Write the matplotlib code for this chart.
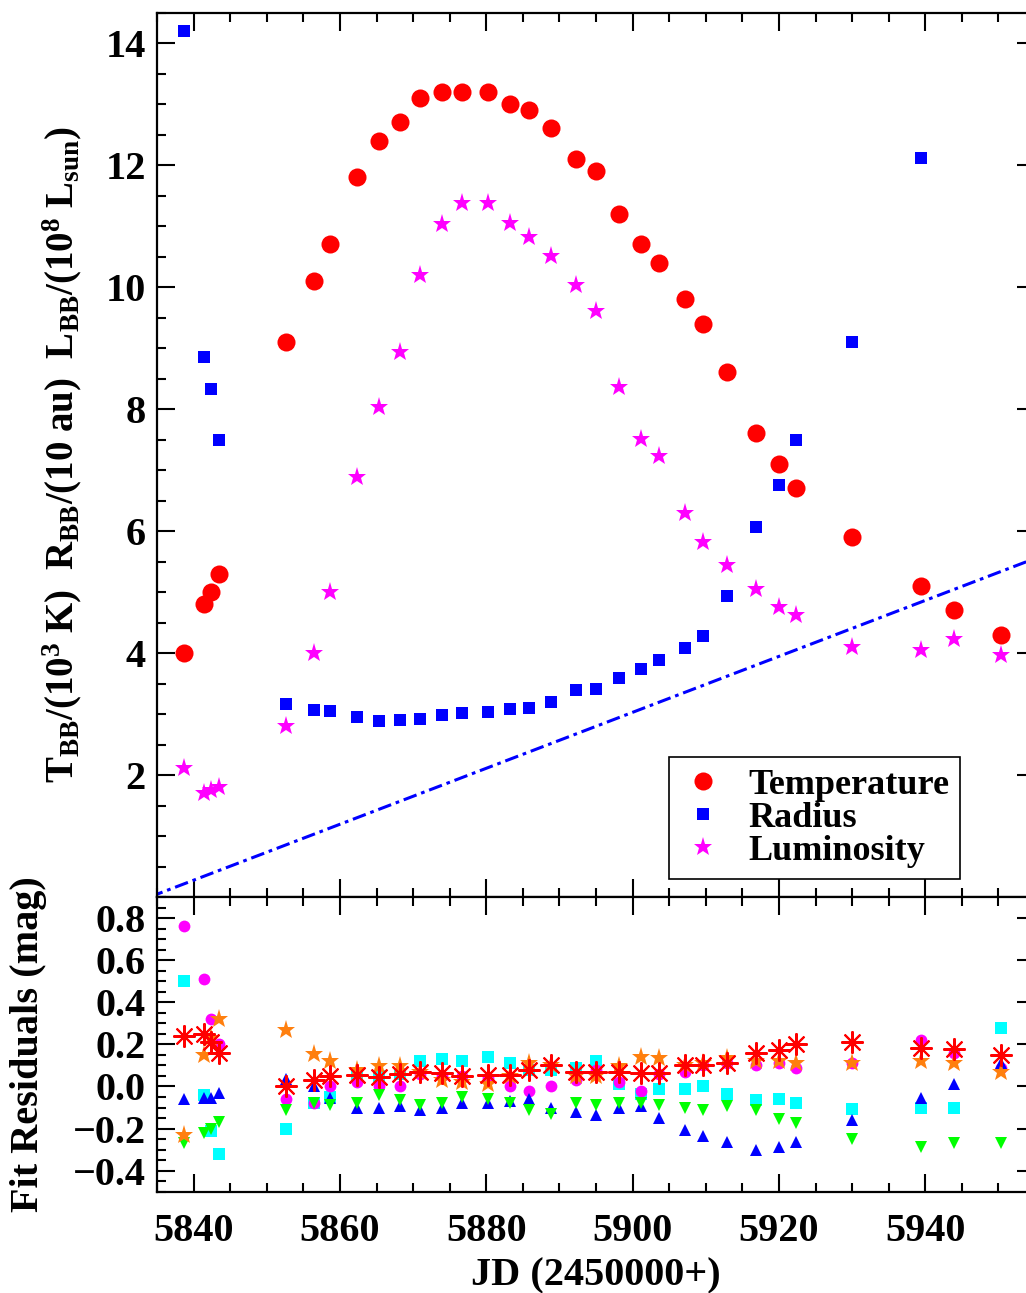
import numpy as np
import matplotlib
matplotlib.use("Agg")
import matplotlib.pyplot as plt
from matplotlib.ticker import MultipleLocator

# Epochs (JD - 2450000)
jd = [5838.7, 5841.4, 5842.4, 5843.5, 5852.6, 5856.4, 5858.7, 5862.3,
      5865.4, 5868.2, 5871.0, 5873.9, 5876.7, 5880.3, 5883.2, 5885.9,
      5888.9, 5892.2, 5895.0, 5898.2, 5901.2, 5903.6, 5907.2, 5909.6,
      5912.9, 5916.9, 5920.0, 5922.4, 5930.0, 5939.4, 5943.9, 5950.4]

# Blackbody fit parameters
temperature = [4.0, 4.8, 5.0, 5.3, 9.1, 10.1, 10.7, 11.8, 12.4, 12.7, 13.1,
               13.2, 13.2, 13.2, 13.0, 12.9, 12.6, 12.1, 11.9, 11.2, 10.7,
               10.4, 9.8, 9.4, 8.6, 7.6, 7.1, 6.7, 5.9, 5.1, 4.7, 4.3]
radius = [14.2, 8.85, 8.33, 7.5, 3.16, 3.07, 3.05, 2.95, 2.89, 2.90, 2.91,
          2.98, 3.02, 3.03, 3.08, 3.10, 3.20, 3.39, 3.41, 3.59, 3.74, 3.89,
          4.08, 4.28, 4.93, 6.07, 6.75, 7.50, 9.10, 12.11, 14.6, np.nan]
luminosity = [2.11, 1.70, 1.75, 1.80, 2.80, 4.0, 5.0, 6.89, 8.03, 8.93,
              10.2, 11.03, 11.38, 11.38, 11.05, 10.82, 10.51, 10.03, 9.61,
              8.36, 7.51, 7.23, 6.30, 5.82, 5.44, 5.05, 4.75, 4.62, 4.10,
              4.05, 4.23, 3.97]

# Reference line (dash-dot)
line_jd = [5834.0, 5955.0]
line_val = [0.0, 5.55]

# Fit residuals (mag) for each band
res_cyan = [0.50, -0.04, -0.21, -0.32, -0.20, -0.08, -0.05, 0.06, 0.05,
            0.06, 0.12, 0.13, 0.12, 0.14, 0.11, 0.08, 0.08, 0.09, 0.12,
            0.01, -0.035, -0.01, -0.01, 0.00, -0.035, -0.066, -0.058,
            -0.08, -0.106, -0.10, -0.10, 0.28]
res_magenta = [0.76, 0.51, 0.32, 0.20, -0.06, -0.08, 0.00, 0.02, 0.00,
               0.00, 0.06, 0.05, 0.05, 0.04, 0.00, -0.02, 0.00, 0.03, 0.08,
               0.02, -0.02, 0.06, 0.07, 0.10, 0.11, 0.10, 0.11, 0.09, 0.11,
               0.22, 0.16, 0.09]
res_blue = [-0.06, -0.055, -0.055, -0.03, 0.035, 0.0, -0.055, -0.10, -0.10,
            -0.095, -0.11, -0.10, -0.08, -0.08, -0.07, -0.06, -0.10, -0.12,
            -0.135, -0.10, -0.095, -0.15, -0.205, -0.235, -0.265, -0.30,
            -0.29, -0.265, -0.16, -0.055, 0.013, 0.11]
res_green = [-0.27, -0.22, -0.20, -0.17, -0.11, -0.08, -0.09, -0.08, -0.04,
             -0.065, -0.09, -0.08, -0.05, -0.06, -0.08, -0.11, -0.13, -0.08,
             -0.09, -0.08, -0.08, -0.09, -0.10, -0.11, -0.095, -0.11, -0.155,
             -0.175, -0.25, -0.29, -0.27, -0.27]
res_orange = [-0.23, 0.15, 0.23, 0.32, 0.27, 0.155, 0.12, 0.08, 0.095,
              0.095, 0.07, 0.03, 0.02, 0.01, 0.05, 0.11, 0.10, 0.05, 0.05,
              0.095, 0.14, 0.135, 0.10, 0.11, 0.135, 0.12, 0.12, 0.11, 0.11,
              0.12, 0.11, 0.07]
res_red = [0.24, 0.25, 0.21, 0.16, 0.00, 0.03, 0.05, 0.055, 0.045, 0.06,
           0.07, 0.065, 0.05, 0.055, 0.055, 0.08, 0.10, 0.07, 0.07, 0.07,
           0.065, 0.065, 0.10, 0.10, 0.11, 0.16, 0.175, 0.20, 0.21, 0.185,
           0.18, 0.15]

plt.rcParams["font.family"] = "Liberation Serif"
plt.rcParams["font.weight"] = "bold"
plt.rcParams["axes.labelweight"] = "bold"
plt.rcParams["mathtext.fontset"] = "custom"
plt.rcParams["mathtext.rm"] = "Liberation Serif:bold"
plt.rcParams["mathtext.it"] = "Liberation Serif:bold"
plt.rcParams["mathtext.bf"] = "Liberation Serif:bold"

FS = 29
W, H = 1026, 1293
fig = plt.figure(figsize=(W / 100, H / 100), dpi=100)
x0, x1 = 157, 1035
ax1 = fig.add_axes([x0 / W, 1 - 897 / H, (x1 - x0) / W, (897 - 12.5) / H])
ax2 = fig.add_axes([x0 / W, 1 - 1191.7 / H, (x1 - x0) / W, (1191.7 - 897) / H],
                   sharex=ax1)

# top panel
ax1.plot(jd, temperature, "o", color="red", ms=13, mew=0, label="Temperature")
ax1.plot(jd, radius, "s", color="blue", ms=9, mew=0, label="Radius")
ax1.plot(jd, luminosity, "*", color="magenta", ms=14, mew=0, label="Luminosity")
ax1.plot(line_jd, line_val, color="blue", lw=2.2,
         linestyle=(0, (4.5, 1.6, 1.2, 1.6)))
ax1.set_ylim(0, 14.5)
ax1.set_xlim(5835, 5955)
ax1.yaxis.set_minor_locator(MultipleLocator(0.5))
ax1.set_yticks([2, 4, 6, 8, 10, 12, 14])
ax1.set_ylabel(r"T$_{\rm BB}$/(10$^{\rm 3}$ K)  R$_{\rm BB}$/(10 au)  "
               r"L$_{\rm BB}$/(10$^{\rm 8}$ L$_{\rm sun}$)", fontsize=28)
ax1.yaxis.set_label_coords(-0.083, 0.5)
leg = ax1.legend(loc="lower left", bbox_to_anchor=(0.583, 0.0204),
                 borderaxespad=0, fontsize=26, frameon=True, fancybox=False,
                 edgecolor="black", framealpha=1, labelspacing=0.0,
                 handletextpad=0.6, borderpad=0.3, handlelength=1.3)
leg.get_frame().set_linewidth(1.2)
plt.setp(ax1.get_xticklabels(), visible=False)

# bottom panel: residuals
ax2.plot(jd, res_cyan, "s", color="cyan", ms=9, mew=0)
ax2.plot(jd, res_magenta, "o", color="magenta", ms=8.5, mew=0)
ax2.plot(jd, res_blue, "^", color="blue", ms=9, mew=0)
ax2.plot(jd, res_green, "v", color="lime", ms=9, mew=0)
ax2.plot(jd, res_orange, "*", color="#ff7f0e", ms=14, mew=0)
ax2.plot(jd, res_red, marker=(8, 2, 0), ls="none", color="red", ms=16, mew=1.5)
ax2.set_ylim(-0.5, 0.9)
ax2.set_yticks([-0.4, -0.2, 0.0, 0.2, 0.4, 0.6, 0.8])
ax2.yaxis.set_minor_locator(MultipleLocator(0.05))
ax2.xaxis.set_major_locator(MultipleLocator(20))
ax2.xaxis.set_minor_locator(MultipleLocator(5))
ax2.set_xlabel("JD (2450000+)", fontsize=FS, labelpad=6)
ax2.set_ylabel("Fit Residuals (mag)", fontsize=FS)
ax2.yaxis.set_label_coords(-0.125, 0.5)

for ax in (ax1, ax2):
    for s in ax.spines.values():
        s.set_linewidth(1.6)
    ax.tick_params(which="both", direction="in", top=True, right=True,
                   width=1.5, labelsize=FS, pad=8)
    ax.tick_params(axis="x", which="both", pad=15)
    ax.tick_params(which="major", length=13)
    ax.tick_params(which="minor", length=6.5)
    for lab in ax.get_xticklabels() + ax.get_yticklabels():
        lab.set_fontweight("bold")

fig.savefig("out.png", dpi=100)
